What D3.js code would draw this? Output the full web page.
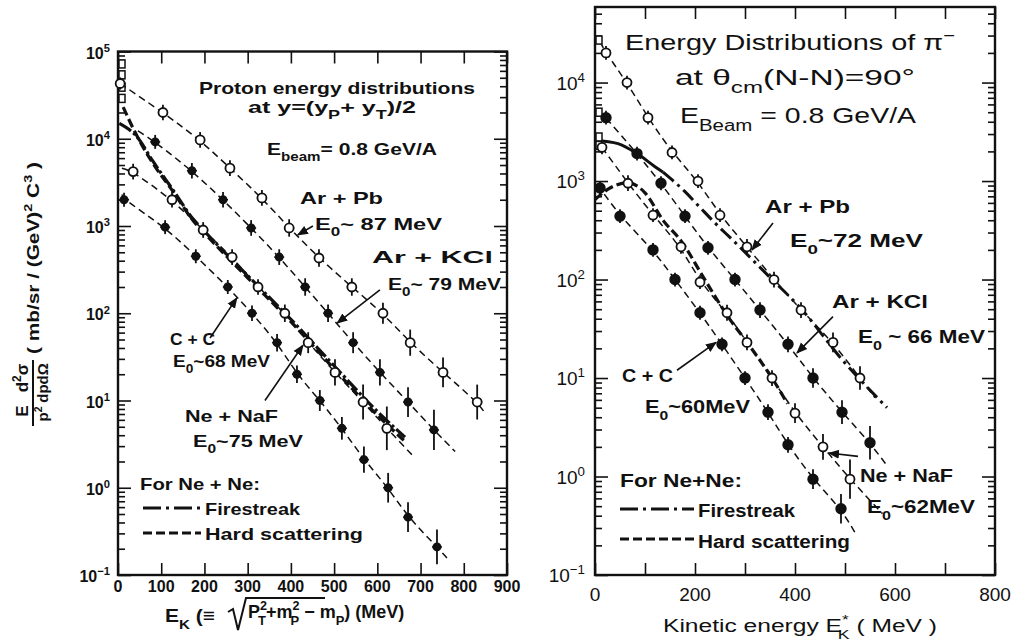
<!DOCTYPE html>
<html><head><meta charset="utf-8">
<script src="https://cdn.jsdelivr.net/npm/d3@7"></script>
<style>
body{margin:0;background:#fff}
svg{display:block}
text{font-family:"Liberation Sans",Arial,sans-serif;fill:#111}
</style>
</head><body>
<svg id="c" width="1026" height="642"></svg>
<script>
// ================= DATA =================
// Left panel: proton energy distributions, [E_K (MeV), E/p^2 d2sigma/dp dOmega, error (log10 half-length)]
const protonArPb  = [[5,4.3e4,.07],[104,2.0e4,.09],[190,9.7e3,.09],[259,4.6e3,.09],[333,2.1e3,.09],[396,950,.1],[465,430,.1],[541,200,.1],[613,100,.12],[676,46,.15],[752,21,.17],[831,9.6,.2]];
const protonArKCl = [[86,9.2e3,.08],[171,4.3e3,.09],[243,2.0e3,.09],[308,950,.09],[373,440,.09],[433,200,.1],[486,100,.1],[544,46,.12],[606,21,.15],[671,9.6,.17],[731,4.6,.23]];
const protonNeNaF = [[35,4.2e3,.09],[125,2.0e3,.09],[197,900,.09],[264,440,.09],[324,200,.09],[386,100,.1],[440,46,.12],[502,21,.15],[567,9.6,.2],[622,4.8,.25]];
const protonCC    = [[14,2.0e3,.08],[109,970,.08],[180,450,.08],[254,200,.08],[310,100,.09],[368,46,.1],[414,20,.1],[467,10,.12],[518,4.8,.13],[569,2.1,.15],[625,1.0,.17],[671,0.46,.17],[738,0.21,.2]];
const protonSquares = [[0,7.2e4],[0,5.4e4],[0,3.9e4],[0,2.9e4]];
// fit-line extensions [start, end] for each left series
const protonArPbEnds  = [[5,4.3e4],[849,7.2]];
const protonArKClEnds = [[46,1.23e4],[780,2.6]];
const protonNeNaFEnds = [[9,4.6e3],[687,2.2]];
const protonCCEnds    = [[9,2.3e3],[761,0.157]];
// Ne+Ne model curves (left)
const protonFirestreak = [[3,1.5e4],[44,1.05e4],[80,5.6e3],[127,2.6e3],[174,1.2e3],[200,870],[300,270],[400,85],[500,25],[600,7.5],[664,3.8]];
const protonHardScat   = [[12,2.3e4],[39,1.2e4],[80,5.3e3],[127,2.5e3],[174,1.15e3],[200,830],[300,255],[400,80],[500,23],[600,6.8],[664,3.4]];

// Right panel: pi- energy distributions, [E*_K (MeV), value, error (log10 half-length)]
const pionArPb  = [[22,2.0e4,.07],[64,1.0e4,.07],[106,4.4e3,.07],[154,1.95e3,.07],[206,1.0e3,.07],[250,450,.07],[304,215,.08],[358,100,.08],[412,49,.08],[476,23,.1],[530,10,.12]];
const pionArKCl = [[22,4.4e3,.07],[84,1.9e3,.07],[132,950,.07],[180,440,.07],[226,210,.07],[280,100,.07],[330,49,.08],[386,22,.08],[436,10,.1],[494,4.5,.12],[550,2.2,.17]];
const pionNeNaF = [[14,2.2e3,.07],[66,950,.08],[116,450,.07],[172,215,.07],[210,94,.07],[264,46,.08],[304,23,.08],[354,10,.08],[400,4.4,.1],[456,2.0,.13],[510,0.94,.2]];
const pionCC    = [[10,850,.06],[50,440,.07],[116,200,.07],[160,100,.07],[210,46,.07],[254,22,.07],[300,10,.07],[346,4.5,.08],[386,2.1,.08],[436,0.94,.1],[492,0.47,.15]];
const pionSquares = [[0,2.7e4],[0,5.0e3],[0,2.8e3],[0,2.3e3]];
const pionArPbEnds  = [[10,2.6e4],[560,6.3]];
const pionArKClEnds = [[6,5.2e3],[586,1.25]];
const pionNeNaFEnds = [[0,2.7e3],[575,0.42]];
const pionCCEnds    = [[4,900],[520,0.27]];
// Ne+Ne model curves (right); firestreak solid below 136 MeV, dash-dot above
const pionFirestreak = [[0,2.6e3],[46,2.4e3],[84,1.9e3],[120,1.4e3],[136,1.23e3],[180,780],[210,540],[240,375],[276,250],[350,105],[410,52],[496,15],[584,5]];
const pionFirestreakSolidEnd = 136;
const pionHardScat   = [[0,650],[30,850],[66,960],[100,760],[136,400],[174,240],[216,107],[266,42],[304,23],[354,10],[385,5.5]];

// tick values
const protonXTicks = [0,100,200,300,400,500,600,700,800,900];
const pionXTicks = [0,100,200,300,400,500,600,700,800];
const pionXLabels = [0,200,400,600,800];
const protonYExp = [-1,0,1,2,3,4,5];
const pionYExp = [-1,0,1,2,3,4];

// annotation arrows [tail, tip] in data coordinates
const protonArrows = [[[451,1000],[416,790]],[[606,185],[507,77]],[[213,52],[275,150]],[[340,10],[428,43]]];
const pionArrows = [[[356,375],[314,200]],[[476,42],[404,18]],[[164,12],[242,23]],[[526,1.6],[468,1.73]]];

// ================= DRAW =================
const svg = d3.select('#c');
svg.append('rect').attr('width',1026).attr('height',642).attr('fill','#fff');
const defs = svg.append('defs');
defs.append('marker').attr('id','ah').attr('viewBox','0 0 10 10').attr('refX',9).attr('refY',5)
  .attr('markerWidth',7).attr('markerHeight',7).attr('orient','auto')
  .append('path').attr('d','M0,1 L10,5 L0,9 Z').attr('fill','#111');

function rich(g, x, y, parts, opt) {
  const t = g.append('text').attr('x',x).attr('y',y).attr('font-size',opt.size)
    .attr('text-anchor',opt.anchor||'start');
  t.attr('font-weight', opt.weight || 'bold');
  if (opt.family) t.style('font-family',opt.family);
  let shift = 0;
  parts.forEach(p => {
    const [s,kind,dx] = typeof p === 'string' ? [p,null,0] : p;
    const ts = t.append('tspan').text(s);
    let target = 0, fs = null;
    if (kind === 'sub') { target = opt.size*0.38; fs = opt.size*0.72; }
    else if (kind === 'sup') { target = -opt.size*0.42; fs = opt.size*0.7; }
    ts.attr('dy', target - shift); shift = target;
    if (dx) ts.attr('dx', dx);
    if (fs) ts.attr('font-size', fs);
  });
  if (opt.len) t.attr('textLength',opt.len).attr('lengthAdjust','spacingAndGlyphs');
  return t;
}

function minorValues(lo, hi) {
  const v = [];
  for (let e = Math.floor(Math.log10(lo)); e <= Math.ceil(Math.log10(hi)); e++)
    for (let m = 2; m <= 9; m++) { const val = m*Math.pow(10,e); if (val>=lo && val<=hi) v.push(val); }
  return v;
}

function panel(cfg) {
  const g = svg.append('g');
  const {x, y} = cfg;
  const [X0,X1] = x.range(); const [Y1,Y0] = y.range();
  const clipId = 'clip'+cfg.id;
  defs.append('clipPath').attr('id',clipId).append('rect')
    .attr('x',X0).attr('y',Y0).attr('width',X1-X0).attr('height',Y1-Y0);
  const majors = cfg.yExp.map(e => Math.pow(10,e));
  const mins = minorValues(y.domain()[0], y.domain()[1]);
  const tickAxis = (axis, tr, vals, size) => {
    const a = g.append('g').attr('transform',tr).call(axis.tickValues(vals).tickSize(size).tickFormat(''));
    a.select('.domain').remove();
    a.selectAll('line').attr('stroke','#111').attr('stroke-width',1.6);
  };
  tickAxis(d3.axisRight(y), `translate(${X0},0)`, majors, 13);
  tickAxis(d3.axisRight(y), `translate(${X0},0)`, mins, 7);
  tickAxis(d3.axisLeft(y), `translate(${X1},0)`, majors, 13);
  tickAxis(d3.axisLeft(y), `translate(${X1},0)`, mins, 7);
  tickAxis(d3.axisTop(x), `translate(0,${Y1})`, cfg.xTicks, 12);
  tickAxis(d3.axisBottom(x), `translate(0,${Y0})`, cfg.xTicks, 12);
  g.append('rect').attr('x',X0).attr('y',Y0).attr('width',X1-X0).attr('height',Y1-Y0)
    .attr('fill','none').attr('stroke','#111').attr('stroke-width',2.4);
  cfg.yExp.forEach(e => {
    rich(g, X0-cfg.ylabGap, y(Math.pow(10,e))+cfg.ylabDy, ['10',[String(e).replace('-','\u2212'),'sup']],
      {size:cfg.ylabSize, anchor:'end', family:cfg.tickFamily, weight:cfg.tickWeight});
  });
  cfg.xLabels.forEach(v => {
    g.append('text').attr('x',x(v)).attr('y',cfg.xlabY).attr('text-anchor','middle')
      .attr('font-size',cfg.xlabSize).attr('font-weight',cfg.tickWeight).style('font-family',cfg.tickFamily).text(v);
  });
  const body = g.append('g').attr('clip-path',`url(#${clipId})`);
  const line = d3.line().x(d=>x(d[0])).y(d=>y(d[1])).curve(d3.curveMonotoneX);
  cfg.series.forEach(s => {
    const pts = [s.ends[0], ...s.data.filter(d=>d[0]>s.ends[0][0] && d[0]<s.ends[1][0]).map(d=>[d[0],d[1]]), s.ends[1]];
    body.append('path').attr('d', d3.line().x(d=>x(d[0])).y(d=>y(d[1])).curve(d3.curveBasis)(pts))
      .attr('fill','none').attr('stroke','#111').attr('stroke-width',1.5).attr('stroke-dasharray','7,4.5');
  });
  body.append('path').attr('d', line(cfg.hard)).attr('fill','none').attr('stroke','#111')
    .attr('stroke-width',3.2).attr('stroke-dasharray','9,4');
  if (cfg.fireSolidEnd != null) {
    body.append('path').attr('d', line(cfg.fire.filter(d=>d[0]<=cfg.fireSolidEnd))).attr('fill','none')
      .attr('stroke','#111').attr('stroke-width',3);
    body.append('path').attr('d', line(cfg.fire.filter(d=>d[0]>=cfg.fireSolidEnd))).attr('fill','none')
      .attr('stroke','#111').attr('stroke-width',3).attr('stroke-dasharray','14,5,3,5');
  } else {
    body.append('path').attr('d', line(cfg.fire)).attr('fill','none').attr('stroke','#111')
      .attr('stroke-width',3.2).attr('stroke-dasharray','14,3,3,3');
  }
  body.selectAll(null).data(cfg.squares).join('rect')
    .attr('x',d=>x(d[0])+1).attr('y',d=>y(d[1])-4).attr('width',6).attr('height',8)
    .attr('fill','#fff').attr('stroke','#111').attr('stroke-width',1.5);
  cfg.series.forEach(s => {
    const pg = g.append('g');
    pg.selectAll(null).data(s.data).join('line')
      .attr('x1',d=>x(d[0])).attr('x2',d=>x(d[0]))
      .attr('y1',d=>y(d[1]*Math.pow(10,d[2]))).attr('y2',d=>y(d[1]/Math.pow(10,d[2])))
      .attr('stroke','#111').attr('stroke-width',1.8);
    pg.selectAll(null).data(s.data).join('line')
      .attr('x1',d=>x(d[0])-5).attr('x2',d=>x(d[0])+5)
      .attr('y1',d=>y(d[1])).attr('y2',d=>y(d[1]))
      .attr('stroke','#111').attr('stroke-width',1.5);
    pg.selectAll(null).data(s.data).join('circle')
      .attr('cx',d=>x(d[0])).attr('cy',d=>y(d[1])).attr('r', s.open ? cfg.rOpen : cfg.rFill)
      .attr('fill', s.open ? '#fff' : '#111').attr('stroke','#111').attr('stroke-width',1.8);
  });
  cfg.arrows.forEach(a => {
    g.append('line').attr('x1',x(a[0][0])).attr('y1',y(a[0][1])).attr('x2',x(a[1][0])).attr('y2',y(a[1][1]))
      .attr('stroke','#111').attr('stroke-width',1.6).attr('marker-end','url(#ah)');
  });
  const lg = cfg.legend;
  g.append('line').attr('x1',lg.x0).attr('x2',lg.x1).attr('y1',lg.yFire).attr('y2',lg.yFire)
    .attr('stroke','#111').attr('stroke-width',2.8).attr('stroke-dasharray','18,5,3,5');
  g.append('line').attr('x1',lg.x0).attr('x2',lg.x1).attr('y1',lg.yHard).attr('y2',lg.yHard)
    .attr('stroke','#111').attr('stroke-width',2.8).attr('stroke-dasharray','9,4');
  return g;
}

const xL = d3.scaleLinear().domain([0,900]).range([118,507]);
const yL = d3.scaleLog().domain([0.1,1e5]).range([575,51.5]);
const xR = d3.scaleLinear().domain([0,800]).range([595,995]);
const yR = d3.scaleLog().domain([0.1,5.85e4]).range([575,7]);

const gL = panel({id:'L', x:xL, y:yL, yExp:protonYExp, xTicks:protonXTicks, xLabels:protonXTicks,
  ylabGap:8, ylabDy:7, ylabSize:16, xlabY:592, xlabSize:16, tickWeight:'bold',
  tickFamily:'"Liberation Sans Narrow","Liberation Sans",Arial,sans-serif',
  rOpen:4.5, rFill:3.6,
  series:[{data:protonArPb,ends:protonArPbEnds,open:true},{data:protonArKCl,ends:protonArKClEnds,open:false},
          {data:protonNeNaF,ends:protonNeNaFEnds,open:true},{data:protonCC,ends:protonCCEnds,open:false}],
  squares:protonSquares, fire:protonFirestreak, hard:protonHardScat, fireSolidEnd:null,
  arrows:protonArrows, legend:{x0:143,x1:201,yFire:508,yHard:533}});

const gR = panel({id:'R', x:xR, y:yR, yExp:pionYExp, xTicks:pionXTicks, xLabels:pionXLabels,
  ylabGap:10, ylabDy:7, ylabSize:19, xlabY:601, xlabSize:19, tickWeight:'normal',
  tickFamily:'"Liberation Sans",Arial,sans-serif',
  rOpen:4.5, rFill:4.8,
  series:[{data:pionArPb,ends:pionArPbEnds,open:true},{data:pionArKCl,ends:pionArKClEnds,open:false},
          {data:pionNeNaF,ends:pionNeNaFEnds,open:true},{data:pionCC,ends:pionCCEnds,open:false}],
  squares:pionSquares, fire:pionFirestreak, hard:pionHardScat, fireSolidEnd:pionFirestreakSolidEnd,
  arrows:pionArrows, legend:{x0:620,x1:694,yFire:509,yHard:539}});

const B = (s) => [s,'base'];
const fix = (arr) => arr.map(p => Array.isArray(p) && p[1]==='base' ? p[0] : p);

// ---- Left texts ----
const fs = 17;
rich(gL,199,94,['Proton energy distributions'],{size:17,len:276});
rich(gL,248,113,fix(['at y=(y',['P','sub'],B('+ y'),['T','sub'],B(')/2')]),{size:17,len:168});
rich(gL,267,155,fix(['E',['beam','sub'],B('= 0.8 GeV/A')]),{size:17,len:170});
rich(gL,300,204,['Ar  +  Pb'],{size:fs,len:83});
rich(gL,315,230,['E',['0','sub'],'~ 87 MeV'],{size:fs,len:127});
rich(gL,372,263,['Ar  +  KCl'],{size:fs,len:121});
rich(gL,388,290,['E',['0','sub'],'~ 79 MeV'],{size:fs,len:113});
rich(gL,170,345,['C + C'],{size:fs,len:45});
rich(gL,173,367,['E',['0','sub'],'~68 MeV'],{size:fs,len:97});
rich(gL,185,422,['Ne +  NaF'],{size:fs,len:93});
rich(gL,193,447,['E',['0','sub'],'~75 MeV'],{size:fs,len:110});
rich(gL,140,490,['For Ne + Ne:'],{size:17,len:120});
rich(gL,205,515,['Firestreak'],{size:17,len:95});
rich(gL,205,540,['Hard  scattering'],{size:17,len:158});

// left x label with radical
rich(gL,165,622,['E',['K','sub'],' (\u2261'],{size:19,len:50});
gL.append('path').attr('d','M228,612 L233,609 L238,630 L246,598 L325,598')
  .attr('fill','none').attr('stroke','#111').attr('stroke-width',2);
rich(gL,248,618,['P',['2','sup'],['T','sub',-9],'+m',['2','sup'],['P','sub',-9],' \u2212 m',['P','sub'],') (MeV)'],{size:18});

// left y label (rotated)
const yl = gL.append('g').attr('transform','translate(33,430) rotate(-90)');
yl.append('line').attr('x1',4).attr('x2',70).attr('y1',0).attr('y2',0).attr('stroke','#111').attr('stroke-width',2);
rich(yl,19,-5,['E'],{size:17,anchor:'middle'});
rich(yl,52,-5,fix(['d',['2','sup'],B('\u03C3')]),{size:17,anchor:'middle'});
rich(yl,16,15,['p',['2','sup']],{size:15,anchor:'middle'});
rich(yl,47,15,['dpd\u03A9'],{size:15,anchor:'middle'});
rich(yl,76,6,fix(['( mb/sr / (GeV)',['2','sup'],B(' C'),['3','sup'],B(' )')]),{size:16,len:192});

// ---- Right texts ----
rich(gR,625,50,['Energy Distributions of \u03C0',['\u2212','sup']],{size:22,len:330,weight:'normal'});
rich(gR,675,85,fix(['at  ',B('\u03B8'),['cm','sub'],B('(N-N)=90\u00B0')]),{size:22,len:240,weight:'normal'});
rich(gR,680,123,['E',['Beam','sub'],' = 0.8  GeV/A'],{size:22,len:236,weight:'normal'});
rich(gR,765,213,['Ar + Pb'],{size:19,len:85});
rich(gR,790,247,['E',['0','sub'],'~72 MeV'],{size:19,len:133});
rich(gR,832,308,['Ar + KCl'],{size:19,len:96});
rich(gR,858,343,['E',['0','sub'],' ~ 66 MeV'],{size:19,len:127});
rich(gR,622,382,['C + C'],{size:19,len:51});
rich(gR,645,413,['E',['0','sub'],'~60MeV'],{size:19,len:105});
rich(gR,860,482,['Ne + NaF'],{size:19,len:93});
rich(gR,867,513,['E',['0','sub'],'~62MeV'],{size:19,len:108});
rich(gR,620,487,['For Ne+Ne:'],{size:18,len:122});
rich(gR,698,517,['Firestreak'],{size:18,len:97});
rich(gR,698,548,['Hard scattering'],{size:18,len:152});
rich(gR,663,632,['Kinetic  energy  E',['*','sup'],['K','sub',-8],' ( MeV )'],{size:18,len:274,weight:'normal'});
</script>
</body></html>
